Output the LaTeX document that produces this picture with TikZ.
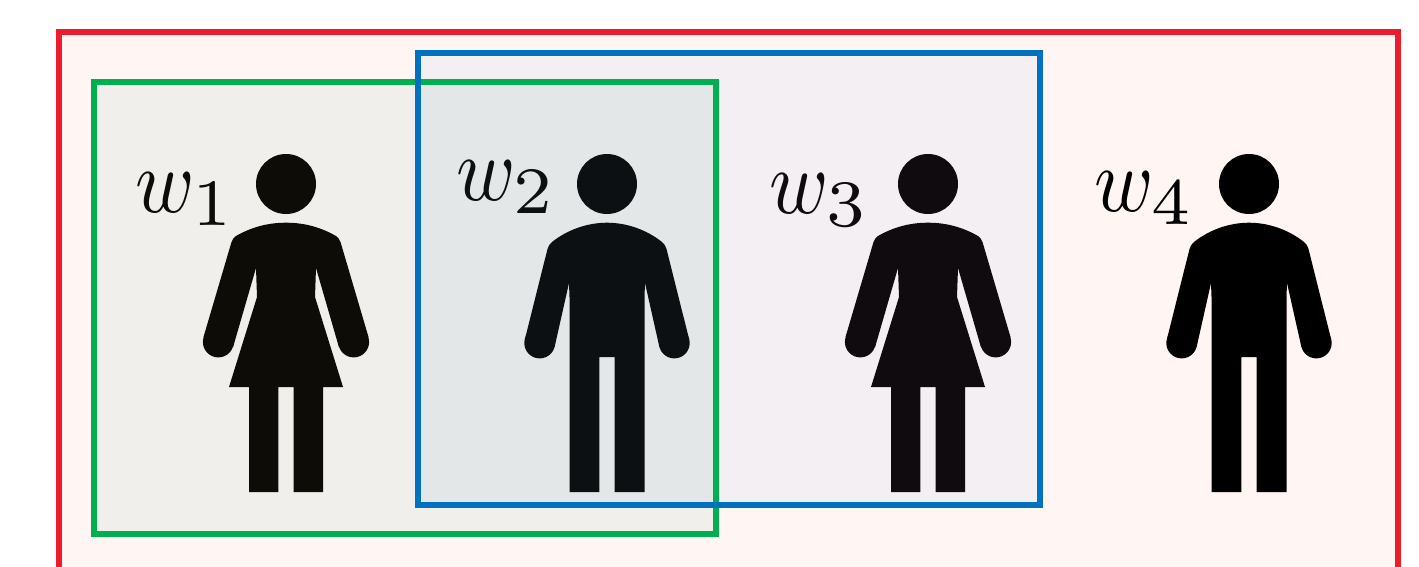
\documentclass[tikz,border=0pt]{standalone}
\definecolor{redline}{HTML}{ED1B2E}
\definecolor{redfill}{HTML}{FFF5F3}
\definecolor{greenline}{HTML}{00B050}
\definecolor{greenfill}{HTML}{F0EFEB}
\definecolor{blueline}{HTML}{0070C0}
\definecolor{bluefill}{HTML}{F3EFF3}
\definecolor{bothfill}{HTML}{E4E7E8}
\definecolor{womanA}{HTML}{0D0C07}
\definecolor{manA}{HTML}{0C1012}
\definecolor{womanB}{HTML}{100B0F}
\newcommand{\wsub}[1]{\scalebox{8}[9.2]{$w_{\scalebox{1.22}[1.03]{$\scriptstyle #1$}}$}}
\tikzset{
  frame/.style={line width=6pt,miter limit=10},
  weight/.style={anchor=base west,inner sep=0pt,text=#1},
  woman/.pic={
    \fill[pic actions] (0,0) circle[radius=30];
    \fill[pic actions] (-67.7,158) circle[radius=15.4] (67.7,158) circle[radius=15.4];
    \fill[pic actions] (0,38.7) .. controls (-20,38.7) and (-36,44) .. (-50,52)
      .. controls (-52,53.5) and (-53.5,55) .. (-54.5,58)
      -- (-82.5,153) -- (-52.9,163) -- (-30,84) -- (-29,113) -- (-57,203) -- (-37,203) -- (-37,308)
      -- (-7.7,308) -- (-7.7,203) -- (7.7,203) -- (7.7,308) -- (37,308) -- (37,203) -- (57,203)
      -- (29,113) -- (30,84) -- (52.9,163) -- (82.5,153) -- (54.5,58)
      .. controls (53.5,55) and (52,53.5) .. (50,52)
      .. controls (36,44) and (20,38.7) .. (0,38.7) -- cycle;
  },
  man/.pic={
    \fill[pic actions] (0,0) circle[radius=30];
    \fill[pic actions] (-67.3,159) circle[radius=15.4] (67.3,159) circle[radius=15.4];
    \fill[pic actions] (0,38.7) .. controls (-20,38.7) and (-40,46) .. (-55,58)
      .. controls (-57.5,60) and (-58.5,62) .. (-59.5,65)
      -- (-82.2,155.5) -- (-52.4,163) -- (-38,99) -- (-37.5,113) -- (-37.5,308) -- (-7.7,308) -- (-7.7,173)
      -- (7.7,173) -- (7.7,308) -- (37.5,308) -- (37.5,113) -- (38,99) -- (52.4,163) -- (82.2,155.5) -- (59.5,65)
      .. controls (58.5,62) and (57.5,60) .. (55,58)
      .. controls (40,46) and (20,38.7) .. (0,38.7) -- cycle;
  }
}
\begin{document}
\begin{tikzpicture}[x=1pt,y=-1pt]
\useasboundingbox (0,0) rectangle (1419,566);
\clip (0,0) rectangle (1419,566);
\fill[white] (0,0) rectangle (1419,566);
% regions
\fill[redfill] (59,32) rectangle (1398,600);
\fill[greenfill] (94,82) rectangle (716,534);
\fill[bluefill] (418,53) rectangle (1040,505);
\fill[bothfill] (418,82) rectangle (716,505);
% people
\pic[fill=womanA] at (286,184) {woman};
\pic[fill=manA] at (607,184) {man};
\pic[fill=womanB] at (928,184) {woman};
\pic[fill=black] at (1249,184) {man};
% frames
\draw[frame,redline] (59,32) rectangle (1398,600);
\draw[frame,greenline] (94,82) rectangle (716,534);
\draw[frame,blueline] (418,53) rectangle (1040,505);
% labels
\node[weight=womanA] (w1) at (135,212) {\wsub{1}};
\node[weight=manA] (w2) at (456,200) {\wsub{2}};
\node[weight=womanB] (w3) at (769,213) {\wsub{3}};
\node[weight=black] (w4) at (1094,211) {\wsub{4}};
\end{tikzpicture}
\end{document}
